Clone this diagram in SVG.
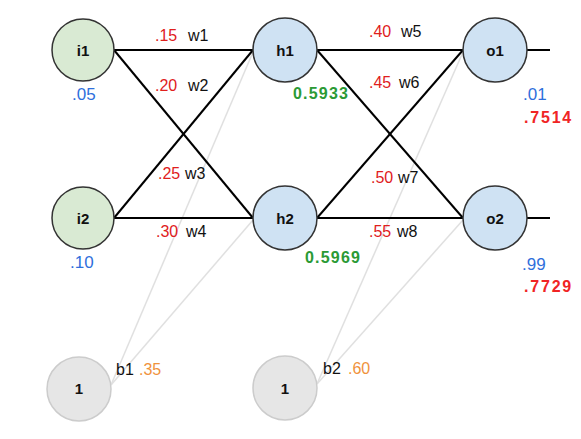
<svg xmlns="http://www.w3.org/2000/svg" width="581" height="439" viewBox="0 0 581 439">
<style>
.w{stroke:#000;stroke-width:2;fill:none}
.b{stroke:#e0e0e0;stroke-width:1.5;fill:none}
.in{fill:#d9ead3;stroke:#333;stroke-width:1.5}
.hid{fill:#cfe2f3;stroke:#333;stroke-width:1.5}
.bias{fill:#e6e6e6;stroke:#cccccc;stroke-width:1.5}
text{font-family:"Liberation Sans",Arial,sans-serif}
.nl{font-size:15px;font-weight:bold;fill:#111;text-anchor:middle}
.red{font-size:16px;fill:#e0201c}
.blk{font-size:16px;fill:#111}
.blue{font-size:17px;fill:#2f6fdc}
.grn{font-size:16px;font-weight:bold;fill:#2b9a35;letter-spacing:1.2px}
.out{font-size:16px;font-weight:bold;fill:#f02424;letter-spacing:1.8px}
.org{font-size:16px;fill:#f0923c}
</style>
<g id="connectors">
<line class="b" x1="111" y1="385" x2="253" y2="52"/>
<line class="b" x1="111" y1="385" x2="253" y2="220"/>
<line class="b" x1="317" y1="384" x2="463" y2="52"/>
<line class="b" x1="317" y1="384" x2="463" y2="220"/>
<line class="w" x1="114" y1="50" x2="253" y2="50"/>
<line class="w" x1="114" y1="50" x2="253" y2="218"/>
<line class="w" x1="114" y1="218" x2="253" y2="50"/>
<line class="w" x1="114" y1="218" x2="253" y2="218"/>
<line class="w" x1="317" y1="50" x2="463" y2="50"/>
<line class="w" x1="317" y1="50" x2="463" y2="218"/>
<line class="w" x1="317" y1="218" x2="463" y2="50"/>
<line class="w" x1="317" y1="218" x2="463" y2="218"/>
<line class="w" x1="526" y1="50" x2="550" y2="50"/>
<line class="w" x1="526" y1="218" x2="550" y2="218"/>
</g>
<g id="weights">
<text class="red" x="155" y="41">.15</text><text class="blk" x="188" y="41">w1</text>
<text class="red" x="155" y="91">.20</text><text class="blk" x="188" y="91">w2</text>
<text class="red" x="158" y="179">.25</text><text class="blk" x="185" y="179">w3</text>
<text class="red" x="156" y="237">.30</text><text class="blk" x="186" y="237">w4</text>
<text class="red" x="369" y="37">.40</text><text class="blk" x="401" y="37">w5</text>
<text class="red" x="369" y="88">.45</text><text class="blk" x="399" y="88">w6</text>
<text class="red" x="371" y="183">.50</text><text class="blk" x="398" y="183">w7</text>
<text class="red" x="369" y="237">.55</text><text class="blk" x="397" y="237">w8</text>
</g>
<g id="i1"><circle class="in" cx="83" cy="50" r="31"/><text class="nl" x="83" y="56">i1</text><text class="blue" x="72" y="100">.05</text></g>
<g id="i2"><circle class="in" cx="83" cy="218" r="31"/><text class="nl" x="83" y="224">i2</text><text class="blue" x="70" y="268">.10</text></g>
<g id="h1"><circle class="hid" cx="285" cy="50" r="32"/><text class="nl" x="285" y="56">h1</text><text class="grn" x="293" y="99">0.5933</text></g>
<g id="h2"><circle class="hid" cx="285" cy="218" r="32"/><text class="nl" x="285" y="224">h2</text><text class="grn" x="305" y="263">0.5969</text></g>
<g id="o1"><circle class="hid" cx="495" cy="50" r="32"/><text class="nl" x="495" y="56">o1</text><text class="blue" x="523" y="100">.01</text><text class="out" x="524" y="123">.7514</text></g>
<g id="o2"><circle class="hid" cx="495" cy="218" r="32"/><text class="nl" x="495" y="224">o2</text><text class="blue" x="522" y="270">.99</text><text class="out" x="524" y="292">.7729</text></g>
<g id="b1"><circle class="bias" cx="79" cy="389" r="32"/><text class="nl" x="79" y="394">1</text><text class="blk" x="116" y="375">b1</text><text class="org" x="139" y="375">.35</text></g>
<g id="b2"><circle class="bias" cx="285" cy="388" r="32"/><text class="nl" x="285" y="394">1</text><text class="blk" x="323" y="374">b2</text><text class="org" x="348" y="374">.60</text></g>
</svg>
